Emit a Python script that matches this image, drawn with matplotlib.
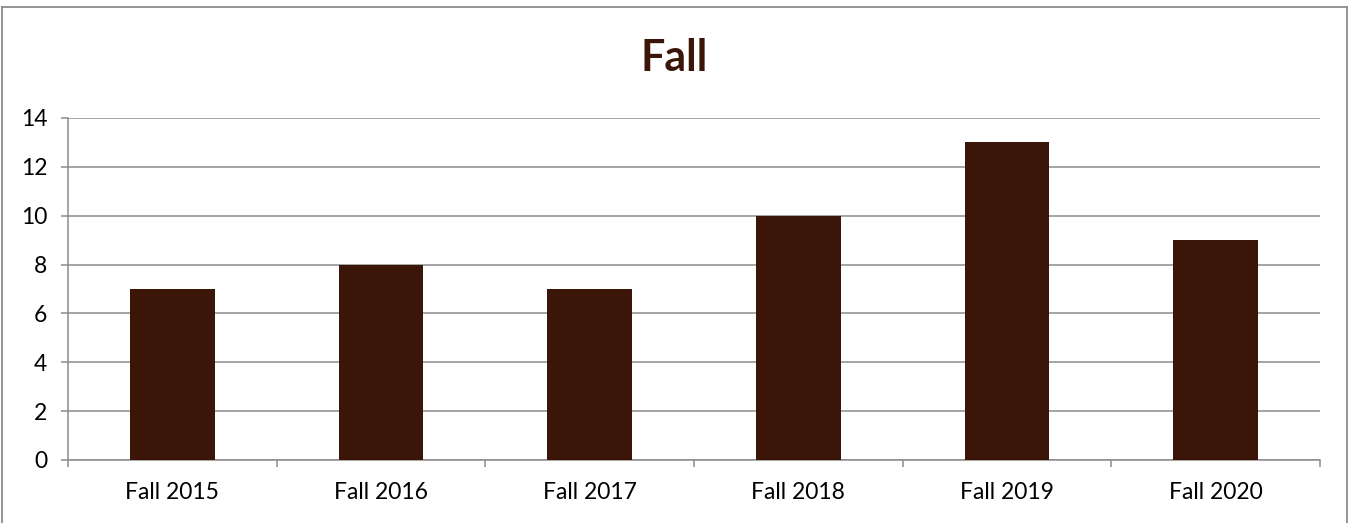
import matplotlib.pyplot as plt
from matplotlib.lines import Line2D

categories = ["Fall 2015", "Fall 2016", "Fall 2017", "Fall 2018", "Fall 2019", "Fall 2020"]
values = [7, 8, 7, 10, 13, 9]

bar_color = "#3b1608"
grid_color = "#8c8c8c"

plt.rcParams['font.family'] = ['Lato', 'DejaVu Sans']

fig = plt.figure(figsize=(13.49, 5.23), dpi=100)
ax = fig.add_axes([68 / 1349, 63 / 523, 1252 / 1349, 342 / 523])

x = list(range(len(categories)))
ax.bar(x, values, width=0.405, color=bar_color, zorder=3)

ax.set_xlim(-0.5, len(categories) - 0.5)
ax.set_ylim(0, 14)
ax.set_yticks(range(0, 15, 2))
ax.set_xticks(x)
ax.set_xticklabels(categories)
ax.set_xticks([i - 0.5 for i in range(len(categories) + 1)], minor=True)

ax.grid(axis='y', color=grid_color, linewidth=1.1, zorder=0)
for side in ["top", "right"]:
    ax.spines[side].set_visible(False)
for side in ["left", "bottom"]:
    ax.spines[side].set_color(grid_color)
    ax.spines[side].set_linewidth(1.1)

ax.tick_params(axis='y', length=5, width=1.1, color=grid_color, pad=10, labelsize=16.5)
ax.tick_params(axis='x', which='major', length=0, pad=16, labelsize=16.5)
ax.tick_params(axis='x', which='minor', length=5, width=1.1, color=grid_color)

fig.text(0.5, 1 - 58 / 523, "Fall", ha='center', va='center', fontsize=31,
         fontweight='bold', color=bar_color)

# outer chart border
bx0, bx1, by = 1.5 / 1349, 1347 / 1349, 1 - 7 / 523
for xs, ys in [([bx0, bx0], [0, by]), ([bx0, bx1], [by, by]), ([bx1, bx1], [by, 0])]:
    fig.add_artist(Line2D(xs, ys, color="#8c8c8c", linewidth=1.3, transform=fig.transFigure))

fig.savefig("out.png", dpi=100)
